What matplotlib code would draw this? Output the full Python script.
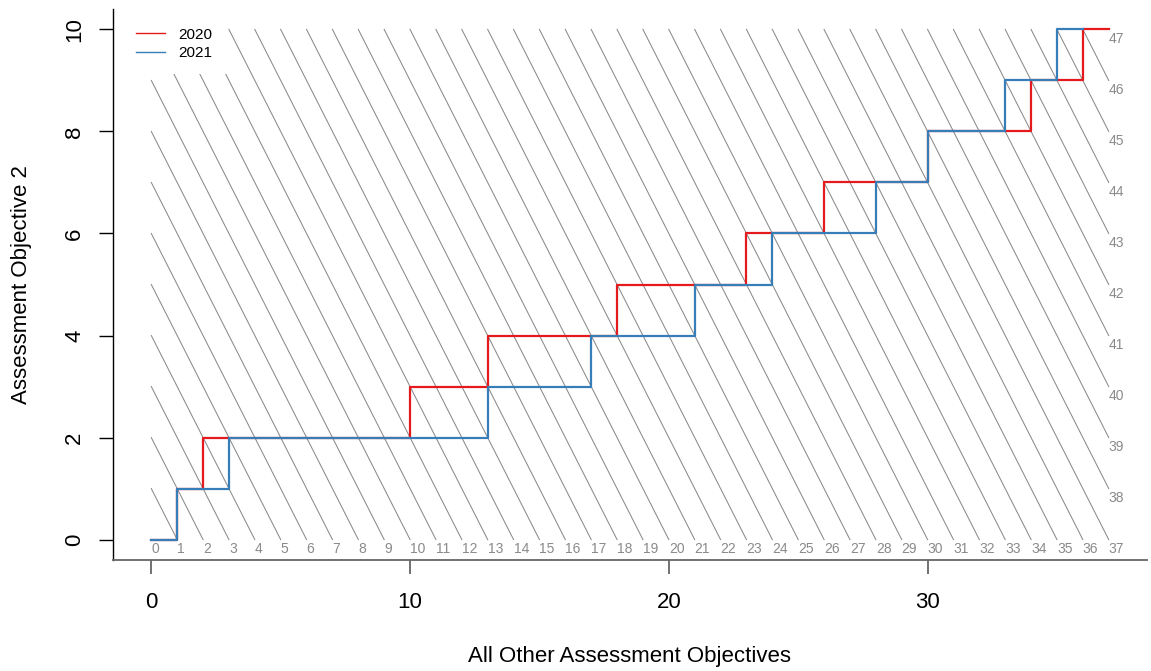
import matplotlib
matplotlib.use("Agg")
import matplotlib.pyplot as plt

plt.rcParams['font.family'] = ['Liberation Sans', 'DejaVu Sans']

# cumulative marks: x = all other assessment objectives, y = AO2
other_2020 = [0, 1, 2, 10, 13, 18, 23, 26, 30, 34, 36, 37]
ao2_2020 = [0, 1, 2, 3, 4, 5, 6, 7, 8, 9, 10, 10]
other_2021 = [0, 1, 3, 13, 17, 21, 24, 28, 30, 33, 35, 36]
ao2_2021 = [0, 1, 2, 3, 4, 5, 6, 7, 8, 9, 10, 10]

max_other = 37
max_ao2 = 10
totals = list(range(0, max_other + max_ao2 + 1))

W, H = 1151, 671
fig = plt.figure(figsize=(W / 100, H / 100), dpi=100)
ax = fig.add_axes([113 / W, 1 - 560 / H, (1147 - 113) / W, (560 - 9) / H])

grey = '#8a8a8a'
# iso-total lines x + y = k, clipped to the mark box
for k in totals:
    x0, y0 = max(0, k - max_ao2), min(k, max_ao2)
    x1, y1 = min(k, max_other), max(0, k - max_other)
    if k > 0:
        ax.plot([x0, x1], [y0, y1], color=grey, lw=0.75, zorder=1)
    ax.annotate(str(k), (x1, y1), xytext=(0, -7), textcoords='offset points',
                ha='left', va='center', fontsize=10, color=grey, zorder=2)

ax.plot(other_2020, ao2_2020, drawstyle='steps-post', color='#E41A1C', lw=1.6,
        zorder=3, label='2020')
ax.plot(other_2021, ao2_2021, drawstyle='steps-post', color='#377EB8', lw=1.6,
        zorder=4, label='2021')

ax.set_xlim(-0.04 * max_other, max_other * 1.04)
ax.set_ylim(-0.04 * max_ao2, max_ao2 * 1.04)
ax.set_xticks([0, 10, 20, 30])
ax.set_yticks([0, 2, 4, 6, 8, 10])

for s in ['top', 'right']:
    ax.spines[s].set_visible(False)
ax.spines['left'].set_color('black')
ax.spines['bottom'].set_color('#666666')
ax.spines['left'].set_linewidth(1.0)
ax.spines['bottom'].set_linewidth(1.3)

ax.tick_params(axis='x', length=10, width=1.3, color='#666666', pad=13, labelsize=16)
ax.tick_params(axis='y', length=10, width=1.0, color='black', pad=10, labelsize=16)
for lab in ax.get_yticklabels():
    lab.set_rotation(90)
    lab.set_va('center')

ax.set_xlabel('All Other Assessment Objectives', fontsize=16, labelpad=24)
ax.set_ylabel('Assessment Objective 2', fontsize=16, labelpad=23)

leg = ax.legend(loc='upper left', bbox_to_anchor=(0, 1.008), fontsize=11,
                frameon=True, fancybox=False,
                borderaxespad=0.6, borderpad=0.9, handlelength=1.9,
                handletextpad=0.9, labelspacing=0.32)
leg.get_frame().set_facecolor('white')
leg.get_frame().set_edgecolor('none')
leg.get_frame().set_alpha(1)
for line in leg.get_lines():
    line.set_linewidth(1.0)
leg.set_zorder(5)

fig.savefig('out.png', dpi=100)
